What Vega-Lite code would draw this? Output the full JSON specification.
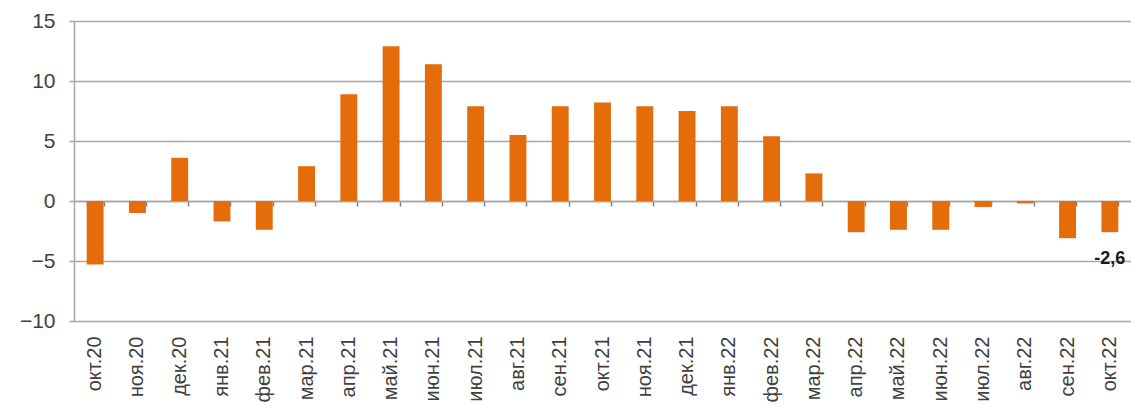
{
  "$schema": "https://vega.github.io/schema/vega-lite/v6.json",
  "width": 1057,
  "height": 300,
  "autosize": "none",
  "padding": {"left": 74, "top": 21, "right": 0, "bottom": 84},
  "background": "white",
  "config": {
    "view": {"stroke": null},
    "font": "Liberation Sans"
  },
  "layer": [
    {
      "data": {"values": [
        {"m": "окт.20", "v": -5.3},
        {"m": "ноя.20", "v": -1.0},
        {"m": "дек.20", "v": 3.6},
        {"m": "янв.21", "v": -1.7},
        {"m": "фев.21", "v": -2.4},
        {"m": "мар.21", "v": 2.9},
        {"m": "апр.21", "v": 8.9},
        {"m": "май.21", "v": 12.9},
        {"m": "июн.21", "v": 11.4},
        {"m": "июл.21", "v": 7.9},
        {"m": "авг.21", "v": 5.5},
        {"m": "сен.21", "v": 7.9},
        {"m": "окт.21", "v": 8.2},
        {"m": "ноя.21", "v": 7.9},
        {"m": "дек.21", "v": 7.5},
        {"m": "янв.22", "v": 7.9},
        {"m": "фев.22", "v": 5.4},
        {"m": "мар.22", "v": 2.3},
        {"m": "апр.22", "v": -2.6},
        {"m": "май.22", "v": -2.4},
        {"m": "июн.22", "v": -2.4},
        {"m": "июл.22", "v": -0.5},
        {"m": "авг.22", "v": -0.2},
        {"m": "сен.22", "v": -3.1},
        {"m": "окт.22", "v": -2.6}
      ]},
      "mark": {"type": "bar", "color": "#E46C0A"},
      "encoding": {
        "x": {
          "field": "m", "type": "nominal", "sort": null,
          "scale": {"paddingInner": 0.6, "paddingOuter": 0.3},
          "axis": {
            "orient": "bottom",
            "title": null, "domain": false, "ticks": false,
            "labelAngle": -90, "labelPadding": 15, "labelFontSize": 20,
            "labelColor": "#404040", "labelAlign": "right", "labelBaseline": "middle"
          }
        },
        "y": {
          "field": "v", "type": "quantitative",
          "scale": {"domain": [-10, 15], "nice": false, "zero": false},
          "axis": {
            "title": null, "values": [-10, -5, 0, 5, 10, 15],
            "grid": true, "gridColor": "#a6a6a6", "gridWidth": 1.5,
            "domain": true, "domainColor": "#a6a6a6", "domainWidth": 1.5,
            "ticks": true, "tickSize": 5, "tickColor": "#a6a6a6", "tickWidth": 1.5,
            "labelPadding": 14, "labelFontSize": 21, "labelColor": "#404040"
          }
        }
      }
    },
    {
      "data": {"values": [{"m": "окт.22", "v": -2.6, "label": "-2,6"}]},
      "mark": {"type": "text", "fontWeight": "bold", "fontSize": 18, "color": "#1a1a1a", "dy": 27, "align": "center", "baseline": "middle"},
      "encoding": {
        "x": {
          "field": "m", "type": "nominal", "sort": null,
          "axis": {
            "orient": "bottom",
            "title": null, "labels": false, "domain": true, "domainColor": "#a6a6a6", "domainWidth": 1.5,
            "ticks": true, "tickBand": "extent", "tickSize": 5, "tickColor": "#808080", "tickWidth": 1.5,
            "offset": -120, "grid": false
          }
        },
        "y": {"field": "v", "type": "quantitative"},
        "text": {"field": "label"}
      }
    }
  ],
  "resolve": {"axis": {"x": "independent"}}
}
